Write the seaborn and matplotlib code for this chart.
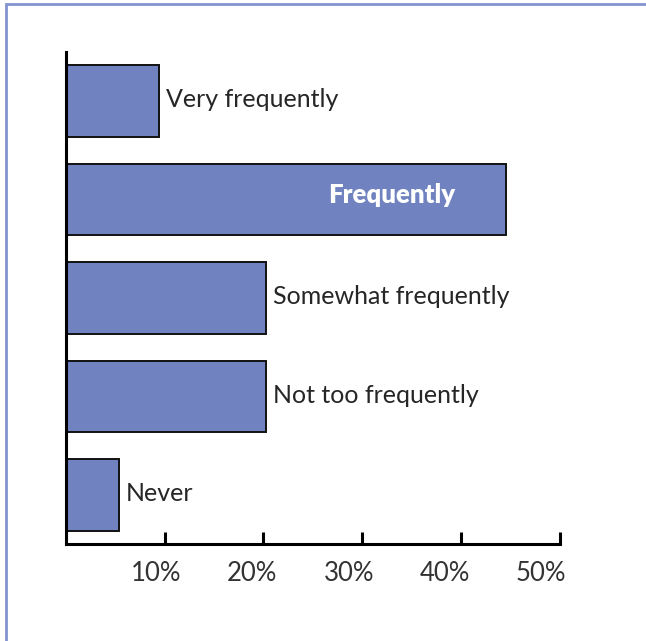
import matplotlib
matplotlib.use("Agg")
import matplotlib.pyplot as plt
import matplotlib.transforms as mtransforms
from matplotlib.patches import Rectangle
import seaborn as sns
import pandas as pd

categories = ["Very frequently", "Frequently", "Somewhat frequently", "Not too frequently", "Never"]
values = [9.4, 44.5, 20.3, 20.3, 5.4]
tick_values = [10, 20, 30, 40, 50]
tick_labels = ["10%", "20%", "30%", "40%", "50%"]

BAR = "#7082c0"
BORDER = "#8493d0"
TXT = "#262626"

sns.set_theme(style="white")
plt.rcParams["font.family"] = ["Lato", "DejaVu Sans"]

df = pd.DataFrame({"category": categories, "value": values})

fig = plt.figure(figsize=(6.46, 6.41), dpi=100)
ax = fig.add_axes([65.7 / 646, 1 - 544 / 641, (560 - 65.7) / 646, (544 - 52) / 641])

sns.barplot(data=df, x="value", y="category", orient="h", color=BAR, saturation=1,
            edgecolor="#111111", linewidth=1.4, width=0.726, ax=ax)

ax.set_xlim(0, 50)
ax.set_ylim(4.5, -0.5)
ax.set_xlabel("")
ax.set_ylabel("")
ax.set_yticks([])
for s in ["top", "right"]:
    ax.spines[s].set_visible(False)
for s in ["left", "bottom"]:
    ax.spines[s].set_color("black")
    ax.spines[s].set_linewidth(2.2)

ax.set_xticks(tick_values, tick_labels)
ax.tick_params(axis="x", direction="in", length=8.5, width=2.2, color="black",
               labelsize=18.5, labelcolor="#333333", pad=12, bottom=True)
offsets_px = [-8.4, -11, -13.5, -16, -19]
for lab, dx in zip(ax.get_xticklabels(), offsets_px):
    lab.set_transform(lab.get_transform() + mtransforms.ScaledTranslation(dx / 100, 0, fig.dpi_scale_trans))

# bar labels
for i, (cat, v) in enumerate(zip(categories, values)):
    if cat == "Frequently":
        ax.annotate(cat, xy=(v, i), xytext=(-36, 3), textcoords="offset points",
                    ha="right", va="center", color="white", fontsize=18.5, fontweight="heavy")
    else:
        ax.annotate(cat, xy=(v, i), xytext=(5, 1), textcoords="offset points",
                    ha="left", va="center", color=TXT, fontsize=18)

# figure border (top and left only)
fig.add_artist(Rectangle((6.2 / 646, -0.1), 1.2, 1.1 - 3.5 / 641, transform=fig.transFigure,
                         fill=False, edgecolor=BORDER, linewidth=2.0, clip_on=False))

fig.savefig("out.png", dpi=100)
